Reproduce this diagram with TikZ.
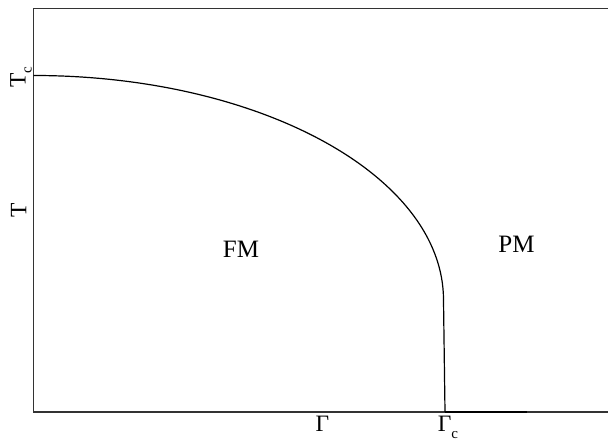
\documentclass[tikz,border=0pt]{standalone}
\usepackage{fontspec}
\setmainfont{Liberation Serif}
\newcommand{\lowsub}[1]{\raisebox{-0.26em}{\fontsize{15}{18}\selectfont #1}}
\begin{document}
\begin{tikzpicture}[x=1pt,y=1pt,
  axis/.style={line width=1.3pt,black!80},
  boundary/.style={line width=1.2pt,black},
  region/.style={font=\fontsize{25}{30}\selectfont,anchor=base,inner sep=0pt},
  axlabel/.style={font=\fontsize{23.5}{28}\selectfont,anchor=base,inner sep=0pt}]
\useasboundingbox (0,0) rectangle (608,441);
\coordinate (top) at (33.5,432.5);
\coordinate (origin) at (33.5,29);
\coordinate (topright) at (608,432.5);
\coordinate (botright) at (608,29);
\coordinate (tc) at (33.5,365.5);
\coordinate (gc) at (445,29);
\coordinate (segend) at (527,29);
\draw[axis] (topright) -- (top) -- (origin) -- (botright);
\draw[boundary] (tc) arc[start angle=90,end angle=0,x radius=410,y radius=224.5] coordinate (kneeend);
\draw[boundary] (kneeend) -- (gc);
\draw[line width=2pt,black] (gc) -- (segend);
\node[axlabel,rotate=90] (Tc) at (25.5,364) {T\lowsub{c}};
\node[axlabel,rotate=90] (T) at (26.5,231) {T};
\node[axlabel] (G) at (322.5,9) {Γ};
\node[axlabel] (Gc) at (448,9) {Γ\lowsub{c}};
\node[region] (FM) at (241,183) {FM};
\node[region] (PM) at (516.5,188) {PM};
\end{tikzpicture}
\end{document}
